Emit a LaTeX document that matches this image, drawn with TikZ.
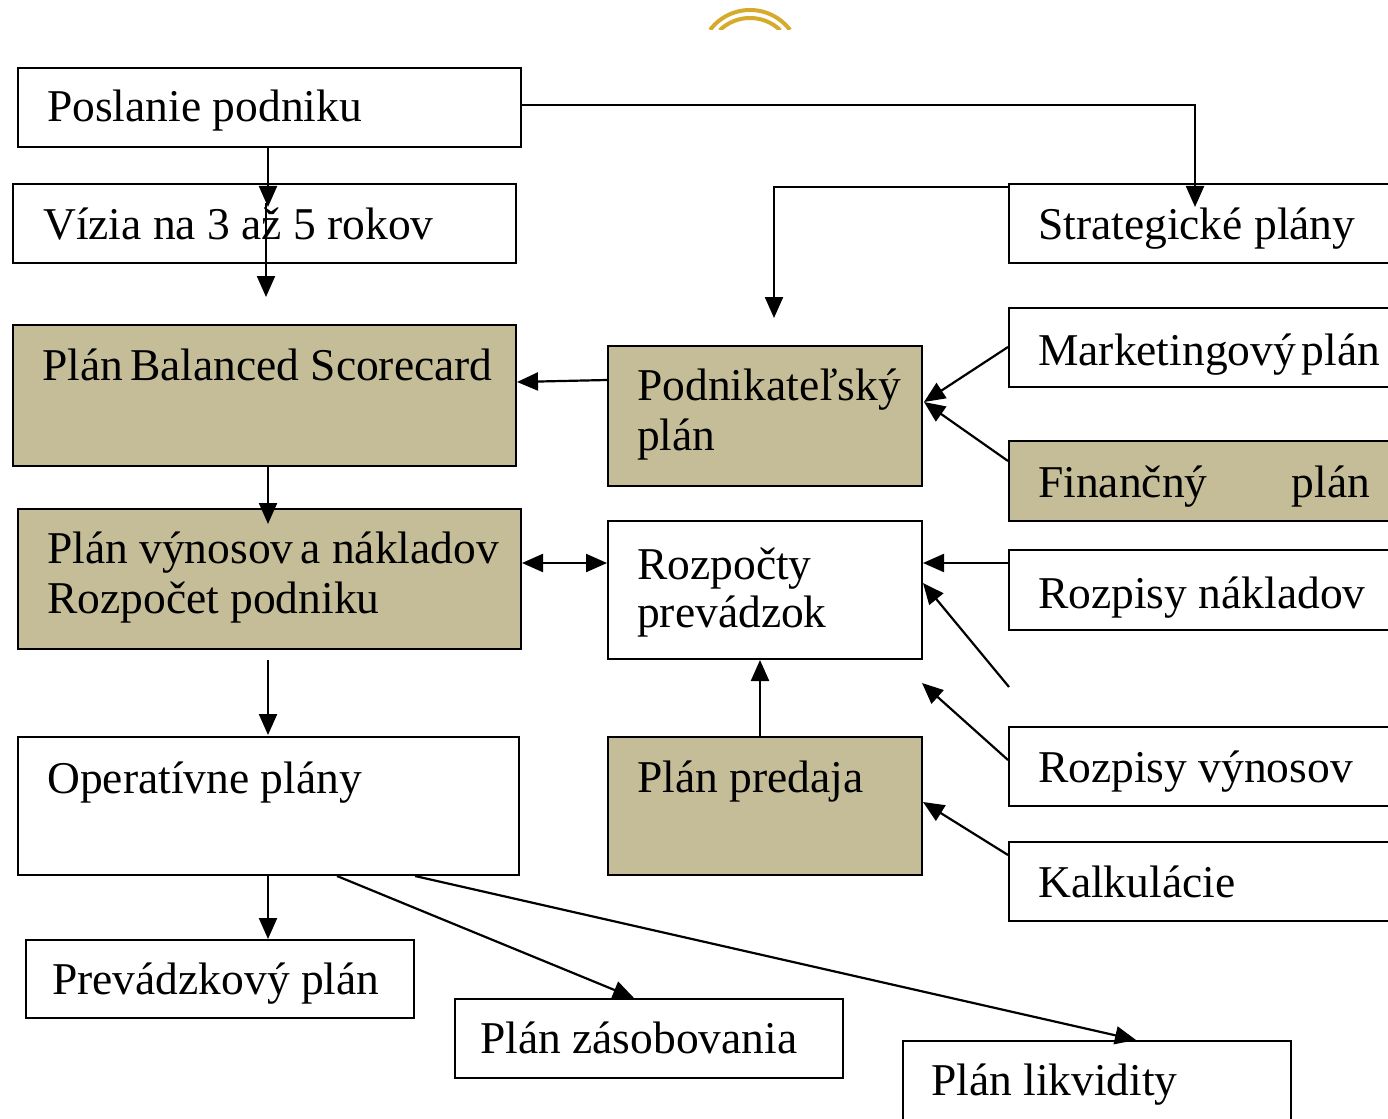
\documentclass[tikz,border=0pt]{standalone}
\usepackage{fontspec}
\setmainfont{Liberation Serif}
\usetikzlibrary{arrows.meta,fit}
\definecolor{tanfill}{RGB}{196,189,151}
\definecolor{arcgold}{RGB}{214,170,42}
\newcommand{\tightsp}{\hspace{7pt}}
\begin{document}
\begin{tikzpicture}[x=1pt,y=-1pt,
  box/.style={draw=black,line width=2pt,inner sep=0pt},
  shaded/.style={box,fill=tanfill},
  txt/.style={anchor=base west,inner sep=0pt,font=\fontsize{45.5}{50}\selectfont},
  conn/.style={line width=2.2pt,-{Triangle[length=21pt,width=18pt]}},
  both/.style={line width=2.2pt,{Triangle[length=21pt,width=18pt]}-{Triangle[length=21pt,width=18pt]}}]
\useasboundingbox (0,0) rectangle (1388,1118);
\clip (0,0) rectangle (1388,1118);

% ornament at the top
\begin{scope}
  \clip (690,0) rectangle (810,30);
  \draw[arcgold,line width=4pt] plot[domain=-143:-37,samples=40] ({750+50*cos(\x)},{60+50*sin(\x)});
  \draw[arcgold,line width=4pt] plot[domain=-134:-46,samples=40] ({750+43.5*cos(\x)},{61.5+43.5*sin(\x)});
\end{scope}

% boxes
\node[box,fit={(18,68) (521,147)}] (poslanie) {};
\node[box,fit={(13,184) (516,263)}] (vizia) {};
\node[shaded,fit={(13,325) (516,466)}] (bsc) {};
\node[shaded,fit={(608,346) (922,486)}] (podnik) {};
\node[box,fit={(1009,184) (1400,263)}] (strat) {};
\node[box,fit={(1009,308) (1400,387)}] (market) {};
\node[shaded,fit={(1009,441) (1400,521)}] (financ) {};
\node[shaded,fit={(18,509) (521,649)}] (vynos) {};
\node[box,fit={(608,521) (922,659)}] (rozpocty) {};
\node[box,fit={(1009,550) (1400,630)}] (rnakl) {};
\node[box,fit={(1009,727) (1400,806)}] (rvyn) {};
\node[box,fit={(1009,842) (1400,921)}] (kalk) {};
\node[box,fit={(18,737) (519,875)}] (oper) {};
\node[shaded,fit={(608,737) (922,875)}] (predaj) {};
\node[box,fit={(26,940) (414,1018)}] (prevadz) {};
\node[box,fit={(455,999) (843,1078)}] (zasob) {};
\node[box,fit={(903,1041) (1291,1130)}] (likv) {};

% texts
\node[txt] (tPoslanie) at (47,122) {Poslanie podniku};
\node[txt] (tVizia) at (43,239) {Vízia na 3 až 5 rokov};
\node[txt] (tBsc) at (42,380) {Plán\tightsp Balanced Scorecard};
\node[txt] (tPodnikA) at (637,400) {Podnikateľský};
\node[txt] (tPodnikB) at (637,450) {plán};
\node[txt] (tStrat) at (1038,239) {Strategické plány};
\node[txt] (tMarket) at (1038,365) {Marketingový\hspace{6pt}plán};
\node[txt] (tFinanc) at (1038,497) {\makebox[332pt][s]{Finančný plán}};
\node[txt] (tVynosA) at (47,563) {Plán výnosov\tightsp a nákladov};
\node[txt] (tVynosB) at (47,613) {Rozpočet podniku};
\node[txt] (tRozpA) at (637,579) {Rozpočty};
\node[txt] (tRozpB) at (637,627) {prevádzok};
\node[txt] (tRnakl) at (1038,608) {Rozpisy nákladov};
\node[txt] (tRvyn) at (1038,782) {Rozpisy výnosov};
\node[txt] (tKalk) at (1038,897) {Kalkulácie};
\node[txt] (tOper) at (47,793) {Operatívne plány};
\node[txt] (tPredaj) at (637,792) {Plán predaja};
\node[txt] (tPrevadz) at (52,994) {Prevádzkový plán};
\node[txt] (tZasob) at (480,1053) {Plán zásobovania};
\node[txt] (tLikv) at (931,1095) {Plán likvidity};

% connector end points
\coordinate (viziaIn) at (268,207);
\coordinate (viziaOut) at (266,203);
\coordinate (bscIn) at (266,297);
\coordinate (stratIn) at (1195,207);
\coordinate (podnikIn) at (774,318);
\coordinate (podnikTip) at (924,402);
\coordinate (vynosIn) at (268,524);
\coordinate (vynosOut) at (268,660);
\coordinate (operIn) at (268,735);
\coordinate (freeA) at (1009,687);
\coordinate (freeB) at (923,583);
\coordinate (freeC) at (922,683);

% connectors
\draw[conn] (poslanie.south -| viziaIn) -- (viziaIn);
\draw[conn] (viziaOut) -- (bscIn);
\draw[conn] (poslanie.east |- 0,105) -| (stratIn);
\draw[conn] (strat.west |- 0,187) -| (podnikIn);
\draw[conn] (podnik.west |- 0,380) -- (bsc.east |- 0,382);
\draw[conn] (market.west |- 0,347) -- (podnikTip);
\draw[conn] (financ.west |- 0,461) -- (podnikTip);
\draw[conn] (bsc.south -| vynosIn) -- (vynosIn);
\draw[both] (vynos.east |- 0,563) -- (rozpocty.west |- 0,563);
\draw[conn] (rnakl.west |- 0,563) -- (rozpocty.east |- 0,563);
\draw[conn] (freeA) -- (freeB);
\draw[conn] (rvyn.west |- 0,760) -- (freeC);
\draw[conn] (kalk.west |- 0,855) -- (predaj.east |- 0,802);
\draw[conn] (predaj.north -| 760,0) -- (rozpocty.south -| 760,0);
\draw[conn] (vynosOut) -- (operIn);
\draw[conn] (oper.south -| 268,0) -- (prevadz.north -| 268,0);
\draw[conn] (oper.south -| 337,0) -- (zasob.north -| 634,0);
\draw[conn] (oper.south -| 415,0) -- (likv.north -| 1136,0);
\end{tikzpicture}
\end{document}
